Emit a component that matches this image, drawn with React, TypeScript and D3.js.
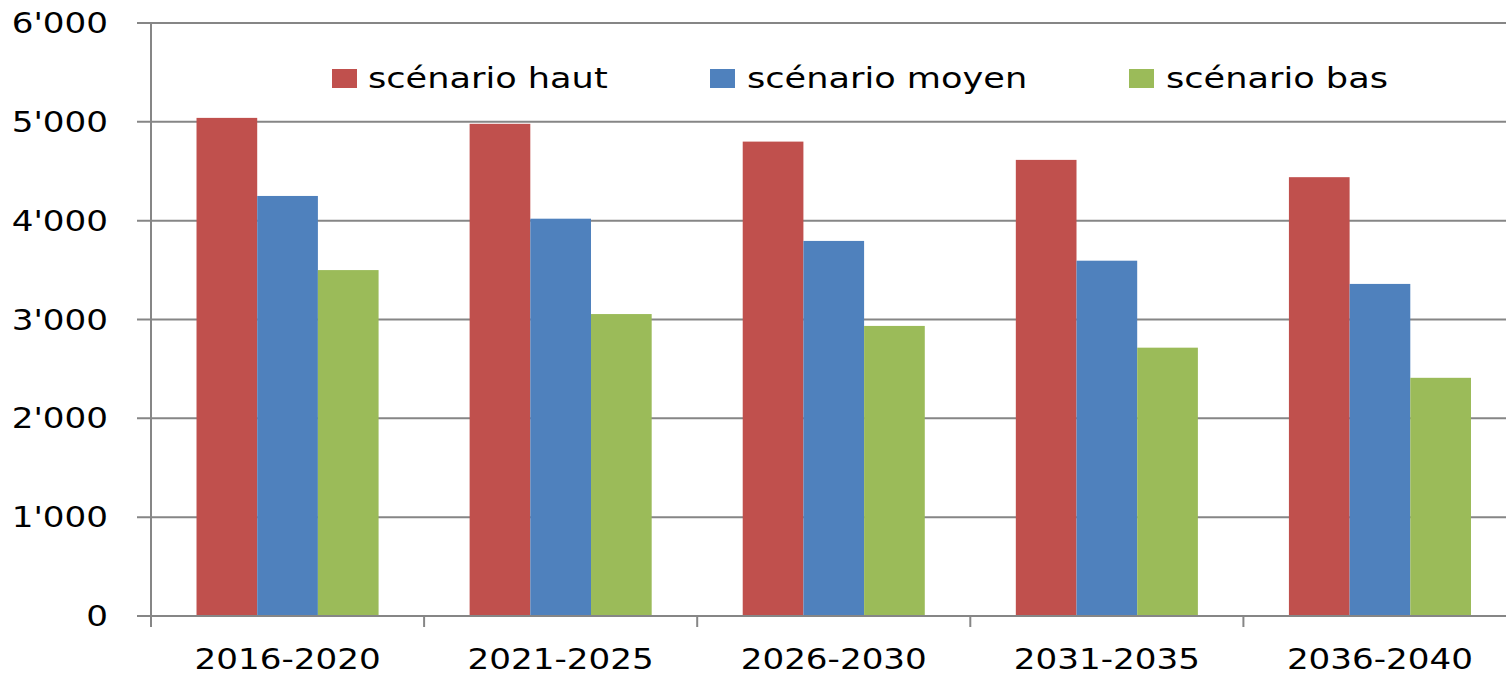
import React from 'react';
import * as d3 from 'd3';

const periods = ['2016-2020', '2021-2025', '2026-2030', '2031-2035', '2036-2040'];
const seriesNames = ['scénario haut', 'scénario moyen', 'scénario bas'];
const haut = [5040, 4980, 4800, 4615, 4440];
const moyen = [4250, 4020, 3795, 3595, 3360];
const bas = [3500, 3055, 2935, 2715, 2410];
const yTicks = [0, 1000, 2000, 3000, 4000, 5000, 6000];
const colors = ['#C0504D', '#4F81BD', '#9BBB59'];

const W = 1506;
const H = 675;
const left = 151;
const top = 23;
const bottom = 616;
const step = 273.1;

const fmt = (v: number) => (v === 0 ? '0' : d3.format(',')(v).replace(',', "'"));

export default function App() {
  const series = [haut, moyen, bas];
  const x = d3.scaleBand<string>().domain(periods).range([left, left + step * periods.length]).padding(0);
  const inner = d3
    .scaleBand<string>()
    .domain(seriesNames)
    .range([0, x.bandwidth()])
    .paddingInner(0)
    .paddingOuter(0.75);
  const y = d3.scaleLinear().domain([0, 6000]).range([bottom, top]);
  const font = 'DejaVu Sans, Verdana, sans-serif';
  const sx = 1.22;
  const grid = '#868686';

  const legendX = [[332, 368], [710, 747], [1129, 1166]];

  return (
    <svg width={W} height={H} style={{ position: 'absolute', left: 0, top: 0, background: '#fff' }}>
      {/* gridlines + y ticks */}
      {yTicks.map((t) => (
        <line key={t} x1={137} x2={W} y1={y(t)} y2={y(t)} stroke={grid} strokeWidth={2} />
      ))}
      {/* bars */}
      {series.map((vals, si) =>
        vals.map((v, i) => (
          <rect
            key={`${si}-${i}`}
            x={(x(periods[i]) ?? 0) + (inner(seriesNames[si]) ?? 0)}
            y={y(v)}
            width={inner.bandwidth()}
            height={bottom - y(v)}
            fill={colors[si]}
          />
        ))
      )}
      {/* y axis */}
      <line x1={left} x2={left} y1={top - 1} y2={bottom + 11} stroke={grid} strokeWidth={2} />
      {/* x ticks */}
      {periods.map((p) => (
        <line key={p} x1={x(p)} x2={x(p)} y1={bottom} y2={bottom + 11} stroke={grid} strokeWidth={2} />
      ))}
      <line x1={left} x2={W} y1={bottom} y2={bottom} stroke={grid} strokeWidth={2} />
      {/* y labels */}
      {yTicks.map((t) => (
        <text
          key={t}
          transform={`translate(108,${y(t)}) scale(${sx},1)`}
          textAnchor="end"
          dy="0.36em"
          fontFamily={font}
          fontSize={28}
          fill="#000"
        >
          {fmt(t)}
        </text>
      ))}
      {/* x labels */}
      {periods.map((p) => (
        <text
          key={p}
          transform={`translate(${(x(p) ?? 0) + x.bandwidth() / 2},669) scale(${sx},1)`}
          textAnchor="middle"
          fontFamily={font}
          fontSize={28}
          fill="#000"
        >
          {p}
        </text>
      ))}
      {/* legend */}
      {seriesNames.map((n, i) => (
        <g key={n}>
          <rect x={legendX[i][0]} y={69} width={25} height={19} fill={colors[i]} />
          <text
            transform={`translate(${legendX[i][1]},88) scale(${sx},1)`}
            fontFamily={font}
            fontSize={28.8}
            fill="#000"
          >
            {n}
          </text>
        </g>
      ))}
    </svg>
  );
}
